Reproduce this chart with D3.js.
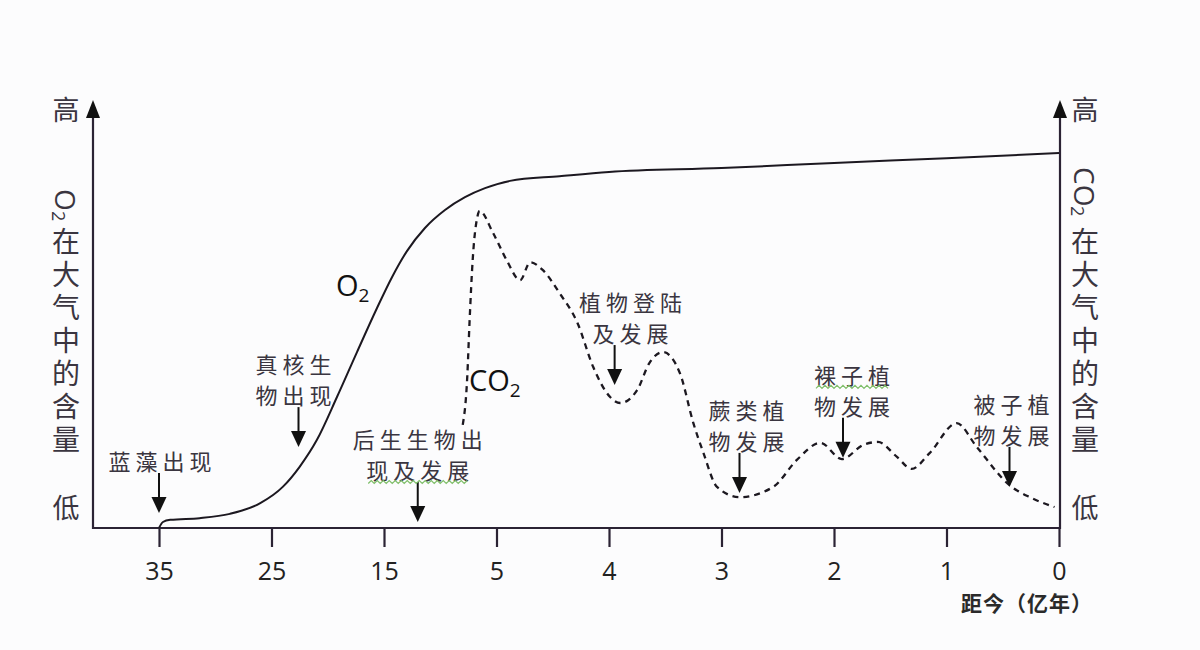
<!DOCTYPE html>
<html>
<head>
<meta charset="utf-8">
<script src="https://cdn.jsdelivr.net/npm/d3@7"></script>
<style>
  html, body { margin: 0; padding: 0; background: #fcfcfd; }
  svg { display: block; }
</style>
</head>
<body>
<svg id="chart" width="1200" height="650"></svg>
<script>
// ---------------- data ----------------
const tickYears  = [35, 25, 15, 5, 4, 3, 2, 1, 0];
const tickLabels = ["35", "25", "15", "5", "4", "3", "2", "1", "0"];

const o2Years  = [35, 34.65, 34.0, 31.4, 28.7, 26.0, 24.0, 22.5, 20.96, 19.18, 17.4, 15.62, 14.29, 12.96, 11.36, 9.58, 7.8, 6.02, 4.88, 4.44, 4, 3, 2, 1, 0];
const o2Values = [0, 1.4, 1.9, 2.3, 3.3, 5.8, 9.6, 14.3, 20.6, 30.6, 41.1, 51.4, 58.6, 64.7, 70.1, 74.3, 77.3, 79.4, 81.1, 82.2, 83.2, 84.1, 85.3, 86.4, 87.6];

const co2Years  = [8.0, 7.6, 7.4, 7.1, 6.7, 6.5, 5.3, 4.91, 4.79, 4.70, 4.59, 4.44, 4.28, 4.14, 3.99, 3.90, 3.75, 3.64, 3.52, 3.37, 3.25, 3.16, 3.04, 2.84, 2.54, 2.33, 2.12, 1.93, 1.74, 1.61, 1.44, 1.31, 1.15, 0.91, 0.73, 0.44, 0.26, 0.04];
const co2Values = [24.1, 35.3, 47.9, 63.3, 72.7, 74.1, 68.9, 62.6, 57.9, 62.1, 60.3, 54.9, 47.9, 37.6, 30.6, 29.2, 32.2, 38.6, 41.1, 36.2, 24.5, 17.5, 9.6, 7.2, 9.6, 15.9, 19.9, 16.1, 19.4, 20.1, 16.6, 13.8, 17.5, 24.5, 18.9, 10.0, 7.2, 4.9];

const annoYears  = [35, 22.6, 12.0, 3.95, 2.84, 1.92, 0.44];
const annoLevels = [3.5, 18.9, 1.4, 33.4, 8.2, 16.4, 9.6];
const annoTexts  = [
  ["蓝藻出现"],
  ["真核生", "物出现"],
  ["后生生物出", "现及发展"],
  ["植物登陆", "及发展"],
  ["蕨类植", "物发展"],
  ["裸子植", "物发展"],
  ["被子植", "物发展"]
];

const leftPrefix  = "O";
const rightPrefix = "CO";
const titleChars  = ["在", "大", "气", "中", "的", "含", "量"];
const highLabel = "高", lowLabel = "低";
const xTitle = "距今（亿年）";

// ---------------- layout / style ----------------
const annoDx = [1, -5, 0, 16, 7, 9, 2];          // text offset from arrow (px)
const squiggle = [false, false, true, false, false, true, false];
const squiggleLine = [0, 0, 1, 0, 0, 0, 0];

const svg = d3.select("#chart");
const axisColor = "#2b2334";
const textColor = "#3a3540";
const cjk = "'Noto Sans CJK SC', 'Noto Sans', sans-serif";
const latin = "'Open Sans', 'Liberation Sans', sans-serif";

const x0 = 159, step = 112.5;
const x = d3.scaleLinear()
  .domain(tickYears)
  .range(tickYears.map((d, i) => x0 + i * step));
const y = d3.scaleLinear().domain([0, 100]).range([528, 100]);

const leftX = 93, rightX = 1060, baseY = y(0);

// axes lines
svg.append("line").attr("x1", leftX).attr("x2", rightX).attr("y1", baseY).attr("y2", baseY)
  .attr("stroke", axisColor).attr("stroke-width", 2.2);
[leftX, rightX].forEach(ax => {
  svg.append("line").attr("x1", ax).attr("x2", ax).attr("y1", baseY + 1).attr("y2", y(100) + 14)
    .attr("stroke", axisColor).attr("stroke-width", 2.2);
  svg.append("path")
    .attr("d", `M${ax},${y(100)} L${ax - 7},${y(100) + 18} L${ax + 7},${y(100) + 18} Z`)
    .attr("fill", "#111");
});

// bottom axis ticks via d3.axisBottom
const gx = svg.append("g").attr("transform", `translate(0,${baseY})`)
  .call(d3.axisBottom(x).tickValues(tickYears).tickFormat((d, i) => tickLabels[i])
    .tickSize(19).tickPadding(15));
gx.select(".domain").remove();
gx.selectAll(".tick line").attr("stroke", axisColor).attr("stroke-width", 2.2);
gx.selectAll(".tick text").attr("fill", "#222").style("font-family", latin).style("font-size", "25px");

// x title
svg.append("text").attr("x", 961).attr("y", 611)
  .style("font-family", cjk).style("font-size", "21px").style("font-weight", "bold")
  .style("letter-spacing", "1px").attr("fill", "#2a2a2a")
  .text(xTitle);

// O2 curve
const line = d3.line().x(d => x(d[0])).y(d => y(d[1])).curve(d3.curveMonotoneX);
svg.append("path")
  .datum(o2Years.map((d, i) => [d, o2Values[i]]))
  .attr("d", line).attr("fill", "none").attr("stroke", "#1c1820").attr("stroke-width", 2);

// CO2 curve
svg.append("path")
  .datum(co2Years.map((d, i) => [d, co2Values[i]]))
  .attr("d", line).attr("fill", "none").attr("stroke", "#1c1820").attr("stroke-width", 2.3)
  .attr("stroke-dasharray", "6,5");

// curve labels
const o2Label = svg.append("text").attr("x", 336).attr("y", 296)
  .style("font-family", latin).style("font-size", "29px").attr("fill", "#111");
o2Label.append("tspan").text("O");
o2Label.append("tspan").attr("dy", 6).style("font-size", "19px").text("2");

const co2Label = svg.append("text").attr("x", 469).attr("y", 391)
  .style("font-family", latin).style("font-size", "29px").attr("fill", "#111");
co2Label.append("tspan").text("CO");
co2Label.append("tspan").attr("dy", 6).style("font-size", "19px").text("2");

// annotations
annoYears.forEach((yr, i) => {
  const ax = x(yr), tip = y(annoLevels[i]);
  const start = tip - 40;
  svg.append("line").attr("x1", ax).attr("x2", ax).attr("y1", start).attr("y2", tip - 14)
    .attr("stroke", "#111").attr("stroke-width", 2);
  svg.append("path")
    .attr("d", `M${ax},${tip} L${ax - 7.5},${tip - 16} L${ax + 7.5},${tip - 16} Z`)
    .attr("fill", "#111");
  const lines = annoTexts[i];
  const n = lines.length;
  lines.forEach((t, j) => {
    const cy = start - 13 - (n - 1 - j) * 31;
    const tx = svg.append("text")
      .attr("x", ax + annoDx[i] + 2.5).attr("y", cy)
      .attr("text-anchor", "middle").attr("dominant-baseline", "central")
      .style("font-family", cjk).style("font-size", "22px").style("letter-spacing", "5px")
      .attr("fill", textColor).text(t);
    if (squiggle[i] && squiggleLine[i] === j) {
      const bb = tx.node().getBBox();
      const pts = [];
      const yy = cy + 13;
      for (let k = bb.x + 2; k <= bb.x + bb.width - 6; k += 3) {
        pts.push([k, yy + ((Math.round((k - bb.x) / 3) % 2) ? 1.5 : -1.5)]);
      }
      svg.append("path").attr("d", d3.line()(pts)).attr("fill", "none")
        .attr("stroke", "#7fbf6a").attr("stroke-width", 1.2);
    }
  });
});

// vertical axis titles (single vertical text each)
function vTitle(cx, prefix, top, firstGap) {
  svg.append("text").attr("x", cx).attr("y", 108)
    .attr("text-anchor", "middle").attr("dominant-baseline", "central")
    .style("font-family", cjk).style("font-size", "27px").attr("fill", textColor).text(highLabel);
  svg.append("text").attr("x", cx).attr("y", 506)
    .attr("text-anchor", "middle").attr("dominant-baseline", "central")
    .style("font-family", cjk).style("font-size", "27px").attr("fill", textColor).text(lowLabel);
  const t = svg.append("text")
    .attr("x", cx).attr("y", top)
    .style("writing-mode", "vertical-rl")
    .style("font-family", latin).style("font-size", "28px").attr("fill", textColor);
  t.append("tspan").text(prefix);
  t.append("tspan").attr("dx", -7).style("font-size", "18px").text("2");
  titleChars.forEach((c, i) => {
    t.append("tspan")
      .attr("dx", i === 0 ? 7 : null)
      .attr("dy", i === 0 ? firstGap : 5)
      .style("font-family", cjk).text(c);
  });
}
vTitle(66, leftPrefix, 189, 6);
vTitle(1085, rightPrefix, 167, 10);
</script>
</body>
</html>
